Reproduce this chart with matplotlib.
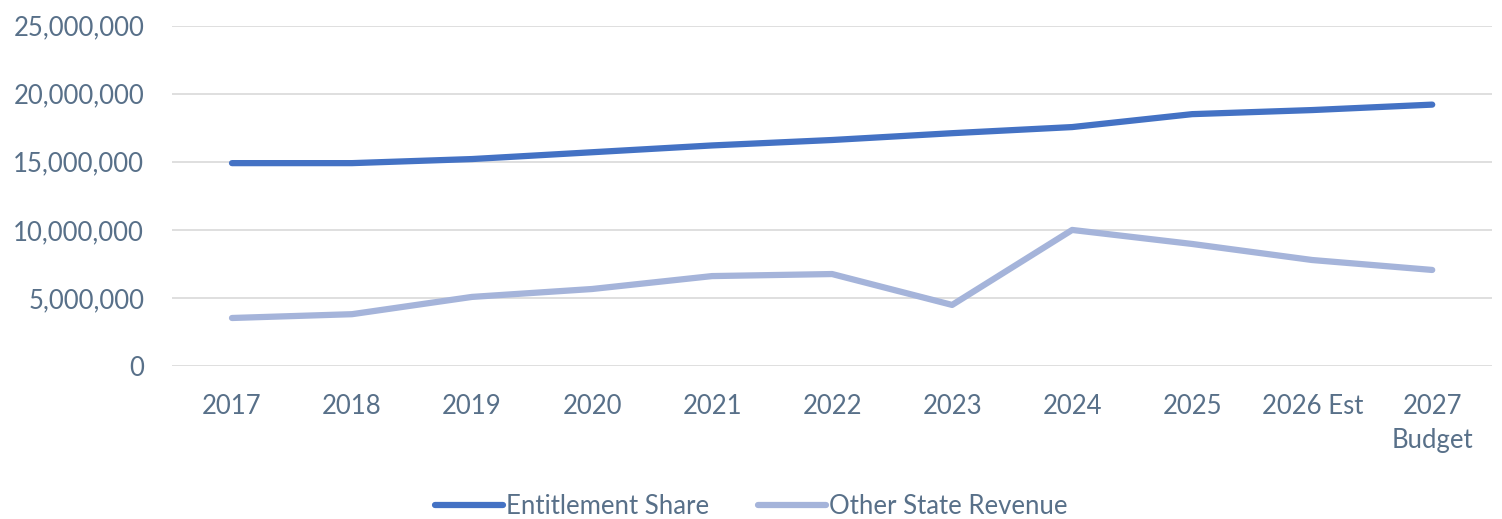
import matplotlib.pyplot as plt
from matplotlib.ticker import FuncFormatter

years = ['2017', '2018', '2019', '2020', '2021', '2022', '2023', '2024', '2025', '2026 Est', '2027\nBudget']
entitlement = [14.9e6, 14.9e6, 15.2e6, 15.7e6, 16.2e6, 16.6e6, 17.1e6, 17.55e6, 18.5e6, 18.8e6, 19.2e6]
other = [3.52e6, 3.8e6, 5.07e6, 5.65e6, 6.6e6, 6.75e6, 4.48e6, 9.99e6, 8.96e6, 7.78e6, 7.05e6]

txt = '#587089'
plt.rcParams['font.family'] = ['Lato', 'DejaVu Sans']

fig = plt.figure(figsize=(15.02, 5.19), dpi=100)
ax = fig.add_axes([0.1145, 0.295, 0.879, 0.6555])

x = range(len(years))
ax.plot(x, entitlement, color='#4472c4', lw=4.5, solid_capstyle='round', label='Entitlement Share')
ax.plot(x, other, color='#a5b4da', lw=4.5, solid_capstyle='round', label='Other State Revenue')

ax.set_xlim(-0.5, len(years) - 0.5)
ax.set_ylim(0, 25e6)
ax.set_yticks([0, 5e6, 10e6, 15e6, 20e6, 25e6])
ax.yaxis.set_major_formatter(FuncFormatter(lambda v, p: f'{int(v):,}'))
ax.set_xticks(list(x))
ax.set_xticklabels(years, linespacing=1.45)
ax.grid(axis='y', color='#d9d9d9', lw=1.2)
ax.set_axisbelow(True)
for s in ax.spines.values():
    s.set_visible(False)
ax.tick_params(axis='both', length=0, labelsize=18.5, colors=txt)
ax.tick_params(axis='x', pad=20)
ax.tick_params(axis='y', pad=20)

leg = fig.legend(loc='lower center', bbox_to_anchor=(0.5, -0.045), ncol=2, frameon=False,
                 fontsize=18.5, handlelength=2.65, handletextpad=0.12, columnspacing=1.9)
for t in leg.get_texts():
    t.set_color(txt)

fig.savefig('out.png', dpi=100)
